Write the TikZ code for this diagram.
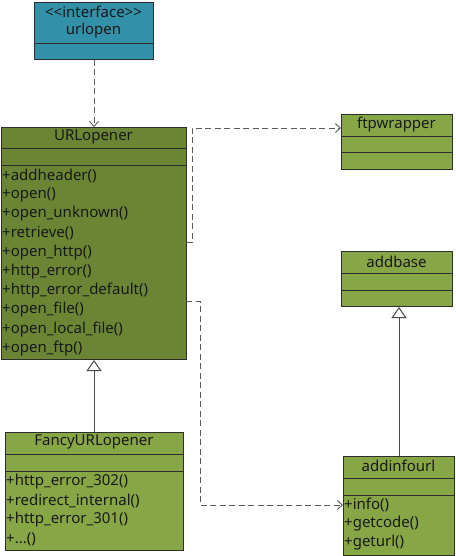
\documentclass[tikz,border=0pt]{standalone}
\usepackage{fontspec}
\setmainfont{Noto Sans}
\usetikzlibrary{arrows.meta,calc}
\definecolor{teal1}{HTML}{3290A9}
\definecolor{olive1}{HTML}{6B8535}
\definecolor{olive2}{HTML}{87A646}
\definecolor{bord}{HTML}{2E2E2E}
\definecolor{dashc}{HTML}{5A5A5A}
\tikzset{
  cls/.style={draw=bord, line width=1pt, inner sep=0pt, anchor=north west},
  sep/.style={draw=bord, line width=0.9pt},
  ttl/.style={font=\fontsize{15}{17}\selectfont, inner sep=0pt, text=black!90},
  mth/.style={font=\fontsize{15}{17}\selectfont, inner sep=0pt, anchor=west, text=black!90},
  dep/.style={draw=dashc, line width=0.9pt, dash pattern=on 6pt off 3.5pt, -{Straight Barb[length=5pt,width=9pt]}},
  inh/.style={draw=dashc!80!black, line width=1pt, -{Triangle[open,length=11pt,width=15pt,fill=white]}},
}
\begin{document}
\begin{tikzpicture}[x=1pt,y=-1pt]
\useasboundingbox (0,0) rectangle (455,556);
% urlopen
\node[cls, fill=teal1, minimum width=119, minimum height=57] (urlopen) at (34,2) {};
\draw[sep] (34,43) -- (153,43);
\node[ttl] (urlopenS) at (93.5,12) {<{}<interface>{}>};
\node[ttl] (urlopenT) at (93.5,30.5) {urlopen};
% URLopener
\node[cls, fill=olive1, minimum width=185, minimum height=232] (urlopener) at (1,127) {};
\draw[sep] (1,148) -- (186,148);
\draw[sep] (1,165) -- (186,165);
\node[ttl] (urlopenerT) at (93.5,136.5) {URLopener};
\node[mth] (m1) at (2,175.5) {+addheader()};
\node[mth] (m2) at (2,194.7) {+open()};
\node[mth] (m3) at (2,213.9) {+open\_unknown()};
\node[mth] (m4) at (2,233.1) {+retrieve()};
\node[mth] (m5) at (2,252.3) {+open\_http()};
\node[mth] (m6) at (2,271.5) {+http\_error()};
\node[mth] (m7) at (2,290.7) {+http\_error\_default()};
\node[mth] (m8) at (2,309.9) {+open\_file()};
\node[mth] (m9) at (2,329.1) {+open\_local\_file()};
\node[mth] (m10) at (2,348.3) {+open\_ftp()};
% ftpwrapper
\node[cls, fill=olive2, minimum width=111, minimum height=55] (ftp) at (341,114) {};
\draw[sep] (341,136) -- (452,136);
\draw[sep] (341,152) -- (452,152);
\node[ttl] (ftpT) at (396.5,124.5) {ftpwrapper};
% addbase
\node[cls, fill=olive2, minimum width=111, minimum height=55] (addbase) at (341,251) {};
\draw[sep] (341,273) -- (452,273);
\draw[sep] (341,290) -- (452,290);
\node[ttl] (addbaseT) at (396.5,261.5) {addbase};
% FancyURLopener
\node[cls, fill=olive2, minimum width=178, minimum height=118] (fancy) at (5,432) {};
\draw[sep] (5,454) -- (183,454);
\draw[sep] (5,471) -- (183,471);
\node[ttl] (fancyT) at (94,442) {FancyURLopener};
\node[mth] (f1) at (6,482) {+http\_error\_302()};
\node[mth] (f2) at (6,501) {+redirect\_internal()};
\node[mth] (f3) at (6,520) {+http\_error\_301()};
\node[mth] (f4) at (6,539) {+...()};
% addinfourl
\node[cls, fill=olive2, minimum width=111, minimum height=99] (addinfo) at (343,456) {};
\draw[sep] (343,478) -- (454,478);
\draw[sep] (343,495) -- (454,495);
\node[ttl] (addinfoT) at (398.5,466) {addinfourl};
\node[mth] (a1) at (344,505) {+info()};
\node[mth] (a2) at (344,524) {+getcode()};
\node[mth] (a3) at (344,543) {+geturl()};
% connectors
\draw[dep] (urlopen.south) -- (urlopener.north);
\coordinate (d1a) at (186,242);
\coordinate (d1b) at (192,242);
\coordinate (d1c) at (192,128);
\draw[dep] (d1a) -- (d1b) -- (d1c) -- (d1c -| ftp.west);
\coordinate (d2a) at (186,301);
\coordinate (d2b) at (200,301);
\coordinate (d2c) at (200,505);
\draw[dep] (d2a) -- (d2b) -- (d2c) -- (d2c -| addinfo.west);
\draw[inh] (fancy.north -| urlopener.south) -- (urlopener.south);
\coordinate (i2) at (399,456);
\draw[inh] (i2) -- (i2 |- addbase.south);
\end{tikzpicture}
\end{document}
